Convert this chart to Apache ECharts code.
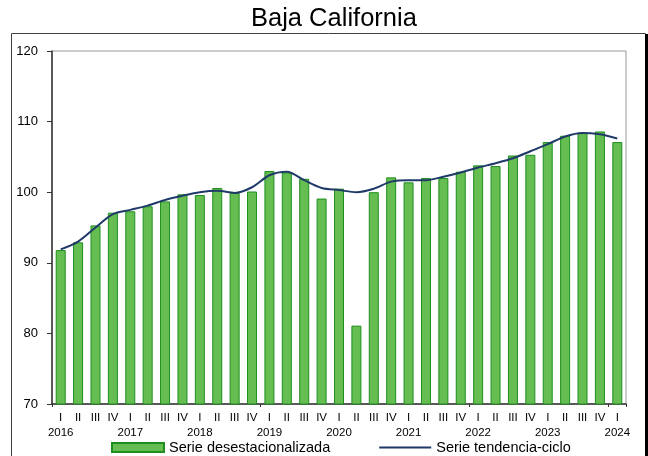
<!DOCTYPE html>
<html>
<head>
<meta charset="utf-8">
<script src="https://cdn.jsdelivr.net/npm/echarts@6/dist/echarts.min.js"></script>
<style>
html, body {margin:0; padding:0; background:#fff;}
#chart-baja {width:648px; height:456px;}
</style>
</head>
<body>
<div id="chart-baja"></div>
<script>
var quarters = ['I', 'II', 'III', 'IV'];
var years = ['2016', '2017', '2018', '2019', '2020', '2021', '2022', '2023', '2024'];
var serieDesest = [91.8, 92.9, 95.3, 97.1, 97.3, 98.0, 98.7, 99.7, 99.6, 100.6, 99.9, 100.1,
	103.0, 102.8, 101.9, 99.1, 100.5, 81.1, 100.0, 102.1, 101.4, 102.0, 102.0, 102.9,
	103.8, 103.7, 105.2, 105.3, 107.1, 108.0, 108.4, 108.6, 107.1];
var serieTendencia = [91.9, 93.0, 95.0, 96.9, 97.5, 98.1, 98.9, 99.5, 100.0, 100.2, 99.9, 100.7,
	102.4, 102.9, 101.7, 100.6, 100.3, 100.0, 100.5, 101.5, 101.7, 101.7, 102.2, 102.8,
	103.5, 104.1, 104.8, 105.8, 106.8, 107.9, 108.4, 108.2, 107.6];

var FONT = 'Liberation Sans, Arial, sans-serif';

function baja_buildCategories(){
	var cats = [];
	for(var i = 0; i < serieDesest.length; ++i){
		var q = quarters[i % 4];
		if(i % 4 == 0){
			cats.push(q + '\n' + years[i / 4]);
		}else{
			cats.push(q);
		}
	}
	return cats;
}

function baja_setCharInfo(option, divId){
	var myChart = echarts.init(document.getElementById(divId), null, {renderer: 'canvas'});
	myChart.setOption(option);
}

// icono de linea delgada centrada (las subrutas vacias solo fijan la caja 52x9)
var lineIcon = 'path://M0,0L52,0L52,0Z M0,3.6L52,3.6L52,5.4L0,5.4Z M0,9L52,9L52,9Z';

var option = {
	animation: false,
	backgroundColor: '#fff',
	textStyle: {fontFamily: FONT},
	title: {
		text: 'Baja California',
		left: 246,
		top: 1,
		textStyle: {fontFamily: FONT, fontSize: 25.5, fontWeight: 'normal', color: '#000'}
	},
	graphic: [
		{type: 'rect', shape: {x: 11.5, y: 33.5, width: 634, height: 440},
			style: {fill: 'none', stroke: '#404040', lineWidth: 1}, silent: true},
		{type: 'rect', shape: {x: 645, y: 34, width: 3, height: 440},
			style: {fill: '#000'}, silent: true}
	],
	legend: {
		left: 106,
		top: 435,
		itemWidth: 52,
		itemHeight: 9,
		itemGap: 49,
		textStyle: {fontFamily: FONT, fontSize: 14.5, color: '#000'},
		data: [
			{name: 'Serie desestacionalizada', icon: 'rect'},
			{name: 'Serie tendencia-ciclo', icon: lineIcon}
		]
	},
	grid: {
		left: 52, right: 22, top: 51, bottom: 52,
		show: true, borderColor: '#999', borderWidth: 1, backgroundColor: 'transparent'
	},
	xAxis: {
		type: 'category',
		data: baja_buildCategories(),
		boundaryGap: true,
		axisLine: {lineStyle: {color: '#333', width: 1.5}},
		axisTick: {show: true, interval: 11, length: 3, lineStyle: {color: '#333'}},
		axisLabel: {interval: 0, fontFamily: FONT, fontSize: 11.5, lineHeight: 15, color: '#000', margin: 6},
		splitLine: {show: false}
	},
	yAxis: {
		type: 'value',
		min: 70, max: 120, interval: 10,
		axisLine: {show: true, lineStyle: {color: '#333', width: 1.5}},
		axisTick: {show: true, length: 5, lineStyle: {color: '#333'}},
		axisLabel: {fontFamily: FONT, fontSize: 13, color: '#000', margin: 14},
		splitLine: {show: false}
	},
	series: [
		{
			name: 'Serie desestacionalizada',
			type: 'bar',
			barWidth: 10,
			data: serieDesest,
			itemStyle: {color: '#66BD52', borderColor: '#1E8F1E', borderWidth: 1}
		},
		{
			name: 'Serie tendencia-ciclo',
			type: 'line',
			data: serieTendencia,
			smooth: 0.3,
			symbol: 'none',
			showSymbol: false,
			itemStyle: {color: '#1F3A68'},
			lineStyle: {color: '#1F3A68', width: 2}
		}
	]
};

baja_setCharInfo(option, 'chart-baja');
</script>
</body>
</html>
